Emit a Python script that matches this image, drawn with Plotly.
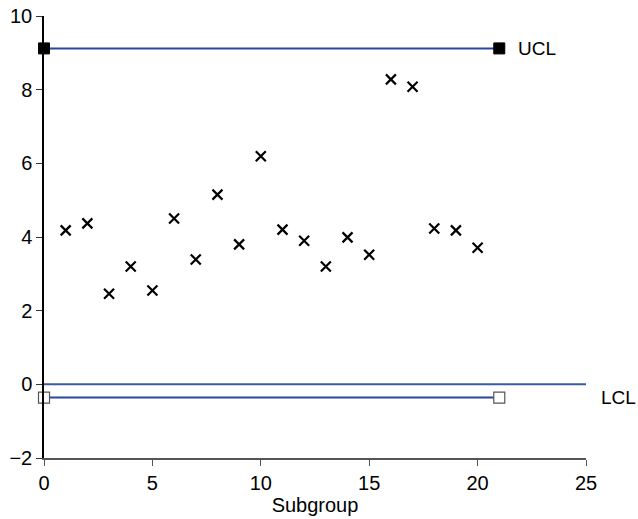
import plotly.graph_objects as go

subgroups = list(range(1, 21))
values = [4.18, 4.37, 2.46, 3.2, 2.55, 4.5, 3.39, 5.15, 3.8, 6.19,
          4.2, 3.9, 3.2, 3.99, 3.52, 8.28, 8.08, 4.23, 4.18, 3.71]
ucl_x = [0, 21]
ucl_y = [9.12, 9.12]
lcl_x = [0, 21]
lcl_y = [-0.36, -0.36]
zero_x = [0, 25]
zero_y = [0, 0]

font = "Liberation Sans, Arial, sans-serif"
fig = go.Figure()
fig.add_trace(go.Scatter(x=zero_x, y=zero_y, mode="lines",
                         line=dict(color="#3a5aa8", width=2), cliponaxis=False))
fig.add_trace(go.Scatter(x=ucl_x, y=ucl_y, mode="lines+markers",
                         line=dict(color="#26479a", width=2),
                         marker=dict(symbol="square", size=11, color="black",
                                     line=dict(color="black", width=1)),
                         cliponaxis=False))
fig.add_trace(go.Scatter(x=lcl_x, y=lcl_y, mode="lines+markers",
                         line=dict(color="#26479a", width=2),
                         marker=dict(symbol="square", size=11, color="white",
                                     line=dict(color="#555555", width=1.2)),
                         cliponaxis=False))
fig.add_trace(go.Scatter(x=subgroups, y=values, mode="markers",
                         marker=dict(symbol="x-thin", size=10,
                                     line=dict(color="black", width=2.2)),
                         cliponaxis=False))

fig.add_annotation(x=ucl_x[-1], y=ucl_y[-1], text="UCL", showarrow=False,
                   xanchor="left", xshift=17, font=dict(size=19, color="black", family=font))
fig.add_annotation(x=25, y=lcl_y[-1], text="LCL", showarrow=False,
                   xanchor="left", xshift=13, font=dict(size=19, color="black", family=font))

fig.update_layout(
    width=638, height=519,
    margin=dict(l=44, r=52, t=16, b=61),
    plot_bgcolor="white", paper_bgcolor="white",
    showlegend=False,
    font=dict(family=font, size=20, color="black"),
    xaxis=dict(range=[0, 25], tickvals=[0, 5, 10, 15, 20, 25], showgrid=False,
               zeroline=False, showline=True, linecolor="#555555", linewidth=1.5,
               ticks="outside", ticklen=6, tickcolor="#555555", automargin=False,
               ticklabeloverflow="allow",
               title=dict(text="Subgroup", font=dict(size=20), standoff=4)),
    yaxis=dict(range=[-2, 10], tickvals=[-2, 0, 2, 4, 6, 8, 10],
               ticktext=["\u22122", "0", "2", "4", "6", "8", "10"], automargin=False,
               ticklabeloverflow="allow",
               showgrid=False, zeroline=False, showline=True, linecolor="black",
               linewidth=1.5, ticks="outside", ticklen=6, tickcolor="#333333"),
)

fig.write_html("out.html", config={"displayModeBar": False},
               post_script="document.body.style.margin='0';document.body.style.overflow='hidden';")
